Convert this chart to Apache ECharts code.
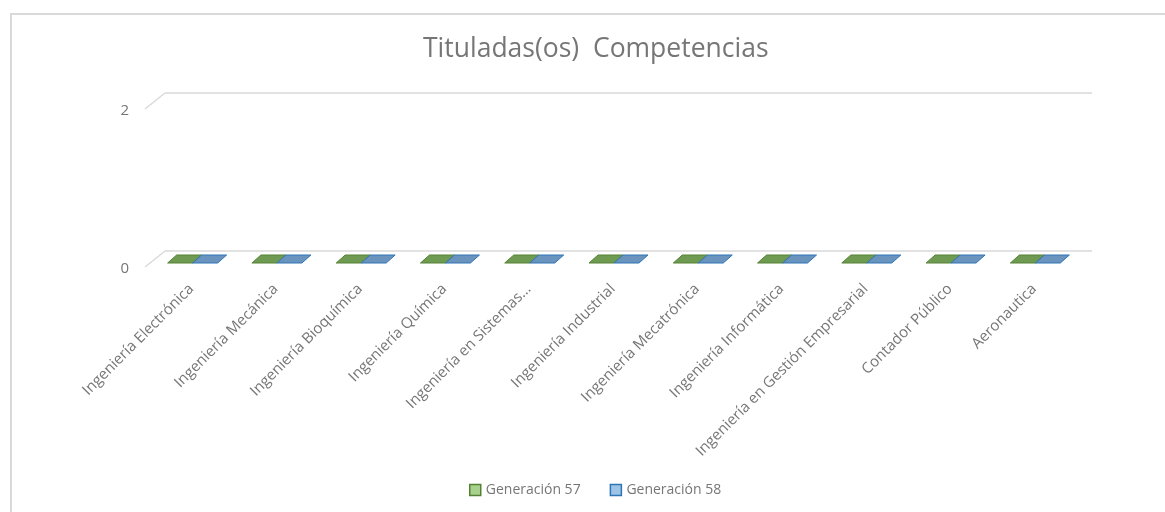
<!DOCTYPE html>
<html>
<head>
<meta charset="utf-8">
<script src="https://cdn.jsdelivr.net/npm/echarts@6/dist/echarts.min.js"></script>
<style>
  html, body { margin: 0; padding: 0; background: #fff; overflow: hidden; }
  #frame { position: absolute; left: 10px; top: 13px; width: 1300px; height: 700px; border: 2px solid #d9d9d9; }
  #main { position: absolute; left: 0; top: 0; width: 1165px; height: 512px; }
</style>
</head>
<body>
<div id="frame"></div>
<div id="main"></div>
<script>
// categories (carreras)
let carreras = [
    'Ingeniería Electrónica', 'Ingeniería Mecánica', 'Ingeniería Bioquímica',
    'Ingeniería Química', 'Ingeniería en Sistemas...', 'Ingeniería Industrial',
    'Ingeniería Mecatrónica', 'Ingeniería Informática',
    'Ingeniería en Gestión Empresarial', 'Contador Público', 'Aeronautica'
];
// series values
let gen57 = [0, 0, 0, 0, 0, 0, 0, 0, 0, 0, 0];
let gen58 = [0, 0, 0, 0, 0, 0, 0, 0, 0, 0, 0];
// y ticks
let yTicks = [0, 2];

const textGray = '#767676';
const gridGray = '#d9d9d9';
// half of the floor depth vector (3d look)
const DX = 4.5, DY = 4;
const WALL_DX = 10, WALL_DY = 8;

// flat 3d bar, side = 0 (left half) or 1 (right half)
function barRenderer(side, fill, stroke) {
    return function (params, api) {
        let base = api.coord([api.value(0), 0]);
        let top = api.coord([api.value(0), api.value(1)]);
        let cx = base[0] - DX + (side === 0 ? -25 : 0);
        let w = 25;
        let y0 = base[1] + DY, y1 = top[1] + DY;
        let children = [];
        // front face
        if (y0 - y1 > 0.5) {
            children.push({
                type: 'rect',
                shape: { x: cx, y: y1, width: w, height: y0 - y1 },
                style: { fill: fill, stroke: stroke, lineWidth: 1 }
            });
        }
        // top face
        children.push({
            type: 'polygon',
            shape: {
                points: [
                    [cx, y1], [cx + w, y1],
                    [cx + w + 2 * DX, y1 - 2 * DY], [cx + 2 * DX, y1 - 2 * DY]
                ]
            },
            style: { fill: fill, stroke: stroke, lineWidth: 1 }
        });
        return { type: 'group', children: children };
    };
}

// back wall lines + floor diagonals
function wallRenderer(params, api) {
    let sys = params.coordSys;
    let children = [];
    yTicks.forEach(t => {
        let y = api.coord([0, t])[1];
        children.push({
            type: 'line',
            shape: { x1: sys.x + WALL_DX, y1: y - WALL_DY, x2: sys.x + sys.width + WALL_DX, y2: y - WALL_DY },
            style: { stroke: gridGray, lineWidth: 1.5 }
        });
        children.push({
            type: 'line',
            shape: { x1: sys.x - WALL_DX, y1: y + WALL_DY, x2: sys.x + WALL_DX, y2: y - WALL_DY },
            style: { stroke: gridGray, lineWidth: 1.5 }
        });
    });
    return { type: 'group', children: children, silent: true };
}

let myChart = echarts.init(document.getElementById('main'));
let option = {
    backgroundColor: 'transparent',
    title: {
        text: 'Tituladas(os)  Competencias',
        left: 418,
        top: 31,
        textStyle: { color: textGray, fontSize: 26.5, fontWeight: 'normal', fontFamily: 'Open Sans' }
    },
    legend: {
        bottom: 10,
        left: 464,
        itemWidth: 11,
        itemHeight: 11,
        itemGap: 29,
        textStyle: { color: textGray, fontSize: 14, fontFamily: 'Open Sans' },
        data: [
            { name: 'Generación 57', icon: 'rect', itemStyle: { color: '#a9d18e', borderColor: '#548235', borderWidth: 1.5 } },
            { name: 'Generación 58', icon: 'rect', itemStyle: { color: '#9dc3e6', borderColor: '#2e75b6', borderWidth: 1.5 } }
        ]
    },
    grid: { left: 155, right: 83, top: 101, bottom: 253 },
    xAxis: {
        type: 'category',
        data: carreras,
        axisLine: { show: false },
        axisTick: { show: false },
        axisLabel: {
            rotate: 45,
            interval: 0,
            margin: 22,
            color: textGray,
            fontSize: 15,
            fontFamily: 'Open Sans',
            padding: [0, 8, 0, 0]
        }
    },
    yAxis: {
        type: 'value',
        min: 0,
        max: 2,
        interval: 2,
        splitLine: { show: false },
        axisLine: { show: false },
        axisTick: { show: false },
        axisLabel: {
            margin: 26,
            color: textGray,
            fontSize: 15,
            fontFamily: 'Open Sans',
            verticalAlign: 'top',
            lineHeight: 19
        }
    },
    series: [
        {
            type: 'custom',
            name: 'wall',
            renderItem: wallRenderer,
            data: [[0, 0]],
            silent: true,
            z: 1
        },
        {
            type: 'custom',
            name: 'Generación 57',
            renderItem: barRenderer(0, '#6f9a52', '#548235'),
            itemStyle: { color: '#a9d18e' },
            data: gen57.map((v, i) => [i, v]),
            encode: { x: 0, y: 1 },
            z: 2
        },
        {
            type: 'custom',
            name: 'Generación 58',
            renderItem: barRenderer(1, '#6a93be', '#2e75b6'),
            itemStyle: { color: '#9dc3e6' },
            data: gen58.map((v, i) => [i, v]),
            encode: { x: 0, y: 1 },
            z: 2
        }
    ]
};
myChart.setOption(option);
</script>
</body>
</html>
